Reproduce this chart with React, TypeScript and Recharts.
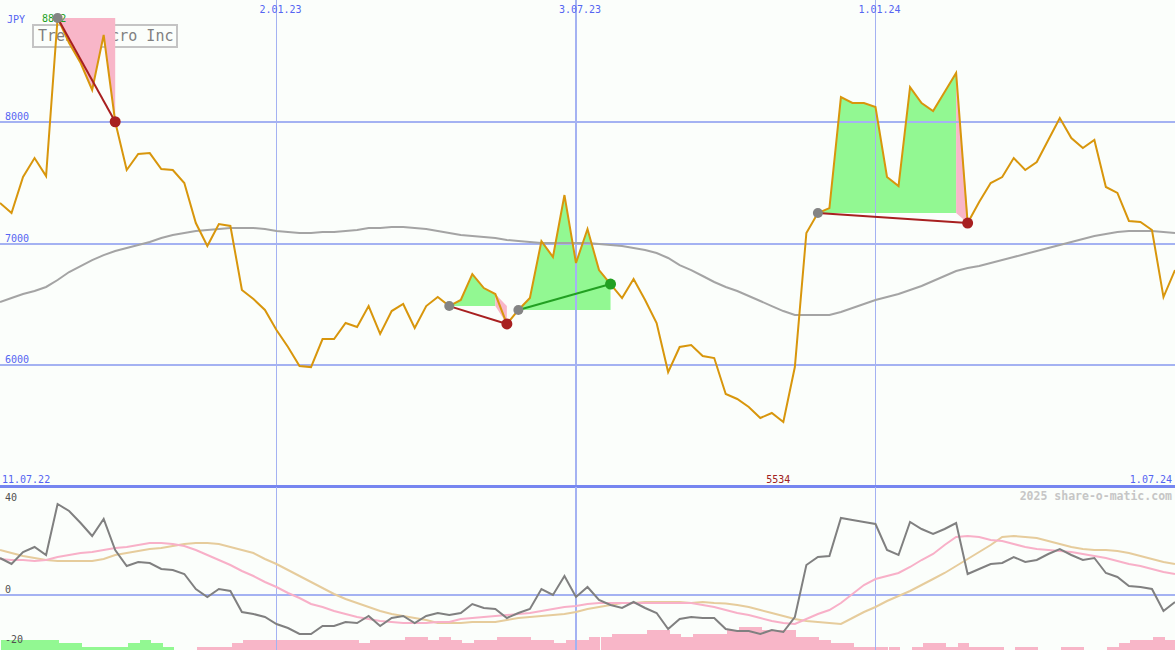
import React from 'react';
import { ComposedChart, Line, Area, Bar, XAxis, YAxis, ReferenceLine } from 'recharts';

// weekly closes, JPY (week 0 .. week 102)
const price = [
  7333, 7250, 7546, 7702, 7554, 8852, 8647, 8482, 8261, 8713,
  8000, 7604, 7735, 7743, 7612, 7604, 7497, 7168, 6979, 7160,
  7144, 6618, 6544, 6454, 6289, 6150, 5994, 5985, 6215, 6215,
  6347, 6314, 6486, 6257, 6445, 6503, 6306, 6486, 6560, 6486,
  6536, 6749, 6634, 6585, 6339, 6454, 6552, 7020, 6889, 7398,
  6840, 7119, 6782, 6667, 6552, 6708, 6536, 6347, 5944, 6150,
  6166, 6076, 6059, 5764, 5723, 5657, 5567, 5608, 5534, 5985,
  7086, 7250, 7291, 8203, 8154, 8154, 8121, 7546, 7472, 8285,
  8154, 8088, 8244, 8400, 7168, 7341, 7497, 7546, 7702, 7604,
  7669, 7850, 8031, 7866, 7784, 7850, 7464, 7415, 7185, 7177,
  7111, 6560, 6782,
];

// long moving average (grey)
const movingAvg = [
  6519, 6552, 6585, 6610, 6643, 6700, 6766, 6815, 6864, 6905,
  6938, 6963, 6988, 7012, 7045, 7070, 7086, 7103, 7111, 7119,
  7127, 7127, 7127, 7119, 7103, 7094, 7086, 7086, 7094, 7094,
  7103, 7111, 7127, 7127, 7135, 7135, 7127, 7119, 7103, 7086,
  7070, 7061, 7053, 7045, 7029, 7020, 7012, 7004, 7004, 7004,
  7004, 7004, 6996, 6988, 6979, 6963, 6947, 6922, 6881, 6823,
  6782, 6733, 6684, 6643, 6610, 6569, 6528, 6486, 6445, 6413,
  6413, 6413, 6413, 6437, 6470, 6503, 6536, 6560, 6585, 6618,
  6651, 6692, 6733, 6774, 6799, 6815, 6840, 6864, 6889, 6914,
  6938, 6963, 6988, 7012, 7037, 7061, 7078, 7094, 7103, 7103,
  7103, 7094, 7086,
];

// lower panel indicator
const momentum = [
  14.8, 12.4, 17.2, 19.2, 16, 36.4, 33.6, 28.8, 23.6, 30.4,
  18, 11.6, 13.2, 12.8, 10.4, 10, 8.4, 2.4, -0.8, 2.4,
  1.6, -6.8, -7.6, -8.8, -11.6, -13.2, -15.6, -15.6, -12.4, -12.4,
  -10.8, -11.2, -8.4, -12.4, -9.2, -8.4, -11.2, -8.4, -7.2, -8,
  -7.2, -3.6, -5.2, -5.6, -9.2, -7.2, -5.6, 2.4, 0, 7.6,
  -0.8, 3.2, -2, -4, -5.2, -2.8, -5.2, -7.2, -13.6, -9.6,
  -8.8, -9.2, -9.2, -13.6, -14.4, -14.4, -15.6, -14, -14.8, -8.8,
  12, 15.2, 15.6, 30.8, 30, 29.2, 28.4, 18, 16, 29.2,
  26.4, 24.4, 26.4, 28.8, 8.4, 10.4, 12.4, 12.8, 15.2, 13.2,
  14, 16.4, 18.4, 16, 14, 14.8, 8.8, 7.2, 3.6, 3.2,
  2.4, -6.4, -2.8,
];

const fastSignal = [
  14.4, 14, 14, 13.6, 14, 15.2, 16, 16.8, 17.2, 18,
  18.8, 19.2, 20, 20.8, 20.8, 20.4, 19.6, 18, 16, 14,
  12, 9.6, 7.6, 5.2, 3.2, 0.8, -1.2, -3.6, -4.8, -6.4,
  -7.6, -8.8, -9.6, -10.4, -10.8, -11.2, -11.2, -11.2, -10.8, -10.8,
  -9.6, -9.2, -8.8, -8.4, -8, -7.6, -7.2, -6.4, -5.6, -4.8,
  -4.4, -3.6, -3.2, -3.2, -3.2, -3.2, -3.2, -3.2, -3.2, -3.2,
  -3.2, -4, -4.8, -6, -7.2, -8, -9.2, -10.4, -11.2, -11.6,
  -9.6, -7.6, -6, -3.2, 0.4, 4, 6.4, 7.6, 8.8, 11.2,
  14, 16.4, 20, 23.2, 23.6, 23.2, 22, 21.6, 20.4, 19.2,
  18.4, 18, 17.6, 17.2, 16.4, 15.6, 14.8, 13.6, 12.4, 11.6,
  10.4, 9.2, 8.4,
];

const slowSignal = [
  18, 16.8, 15.6, 14.8, 14, 13.6, 13.6, 13.6, 13.6, 14.4,
  16, 16.8, 17.6, 18.4, 18.8, 19.6, 20.4, 20.8, 20.8, 20.4,
  19.2, 18, 16.8, 14.4, 12.4, 10, 7.6, 5.2, 2.8, 0.4,
  -1.6, -3.2, -4.8, -6.4, -7.6, -8.4, -9.2, -10, -11.2, -11.2,
  -11.2, -10.8, -10.8, -10.8, -10, -9.2, -8.8, -8.4, -8, -7.6,
  -6.8, -5.6, -4.8, -4, -3.2, -3.2, -2.8, -2.8, -2.8, -2.8,
  -3.2, -2.8, -3.2, -3.4, -4, -4.8, -6, -7.2, -8.4, -9.6,
  -10.4, -10.8, -11.2, -11.6, -9.2, -6.8, -4.8, -2.4, -0.4, 1.6,
  4, 6.4, 8.8, 11.6, 14.4, 17.2, 20, 23.2, 23.6, 23.2,
  22.8, 21.6, 20.4, 19.2, 18.4, 18, 18, 17.6, 16.8, 15.6,
  14.4, 13.2, 12.4,
];

// histogram levels (negative = green, positive = pink)
const histogram = [
  -3, -3, -3, -3, -3, -2, -2, -1, -1, -1,
  -1, -2, -3, -2, -1, 0, 0, 1, 1, 1,
  2, 3, 3, 3, 3, 3, 3, 3, 3, 3,
  3, 2, 3, 3, 3, 4, 4, 3, 4, 3,
  2, 3, 3, 4, 4, 4, 3, 3, 2, 3,
  3, 4, 4, 5, 5, 5, 6, 6, 5, 4,
  5, 5, 5, 6, 7, 7, 6, 6, 6, 4,
  4, 3, 2, 2, 1, 1, 1, 1, 0, 1,
  2, 2, 1, 2, 1, 1, 1, 0, 1, 1,
  0, 0, 1, 1, 0, 0, 1, 2, 3, 3,
  4, 3, 0,
];

const weeks = price.map((_, i) => i);
const dateTicks = [24, 50, 76];
const dateLabels = ['2.01.23', '3.07.23', '1.01.24'];
const firstDate = '11.07.22';
const lastDate = '1.07.24';
const priceTicks = [6000, 7000, 8000];
const indicatorTicks = [40, 0, -20];
const trendFrom = [5, 39, 45, 71];
const trendTo = [10, 44, 53, 84];

const LAST = weeks.length - 1;
const minIdx = price.indexOf(Math.min(...price));
const maxIdx = price.indexOf(Math.max(...price));

const FONT = 'DejaVu Sans Mono';
const BLUE_TXT = '#5565f2';
const GRID = '#a4b2f2';
const ORANGE = '#d8960c';
const GREEN_FILL = '#92f892';
const PINK_FILL = '#f8b6c8';
const DARK_RED = '#a82020';
const DARK_GREEN = '#22a022';

const topData = weeks.map((i) => {
  const row: any = { i, price: price[i], ma: movingAvg[i], green: null, pink: null, peak: i === maxIdx ? price[i] : null };
  trendFrom.forEach((s, k) => {
    const e = trendTo[k];
    const base = price[s];
    row['t' + k] = i === s || i === e ? price[i] : null;
    if (i >= s && i <= e) {
      const up = (j: number) => price[j] >= base;
      const band = [Math.min(base, price[i]), Math.max(base, price[i])];
      const inGreen = (i > s && up(i)) || (i < e && up(i + 1));
      const inPink = (i > s && !up(i)) || (i < e && !up(i + 1));
      if (inGreen) row.green = band;
      if (inPink) row.pink = band;
    }
  });
  return row;
});

const bottomData = weeks.map((i) => ({
  i,
  mom: momentum[i],
  fast: fastSignal[i],
  slow: slowSignal[i],
  hist: Math.abs(histogram[i]),
  histSign: histogram[i],
}));

const DateTick = (props: any) => {
  const { x, payload } = props;
  const k = dateTicks.indexOf(payload.value);
  return (
    <text x={x + 4} y={13} textAnchor="middle" fill={BLUE_TXT} fontSize={10} fontFamily={FONT}>
      {dateLabels[k]}
    </text>
  );
};

const EdgeTick = (props: any) => {
  const { x, payload } = props;
  const v = payload.value;
  if (v === 0)
    return (
      <text x={2} y={483} textAnchor="start" fill={BLUE_TXT} fontSize={10} fontFamily={FONT}>
        {firstDate}
      </text>
    );
  if (v === LAST)
    return (
      <text x={1172} y={483} textAnchor="end" fill={BLUE_TXT} fontSize={10} fontFamily={FONT}>
        {lastDate}
      </text>
    );
  return (
    <text x={x - 5} y={483} textAnchor="middle" fill="#a02020" fontSize={10} fontFamily={FONT}>
      {price[v]}
    </text>
  );
};

const PriceTick = (props: any) => {
  const { y, payload } = props;
  return (
    <text x={5} y={y - 2} fill={BLUE_TXT} fontSize={10} fontFamily={FONT}>
      {payload.value}
    </text>
  );
};

const IndTick = (props: any) => {
  const { y, payload } = props;
  return (
    <text x={5} y={Math.min(159, Math.max(14, y - 2))} fill="#505050" fontSize={10} fontFamily={FONT}>
      {payload.value}
    </text>
  );
};

const PeakLabel = (props: any) => {
  const { cx, cy, index, value } = props;
  if (index !== maxIdx || value == null) return <g key={'pk' + index} />;
  return (
    <text key={'pk' + index} x={cx - 15.5} y={cy + 4} fill="#22a022" fontSize={10} fontFamily={FONT}>
      {price[maxIdx]}
    </text>
  );
};

const makeDot = (k: number) => (props: any) => {
  const { cx, cy, index } = props;
  const s = trendFrom[k];
  const e = trendTo[k];
  if (index === s) return <circle key={`d${k}s`} cx={cx} cy={cy} r={5} fill="#848484" />;
  if (index === e)
    return <circle key={`d${k}e`} cx={cx} cy={cy} r={5.5} fill={price[e] >= price[s] ? DARK_GREEN : DARK_RED} />;
  return <g key={`d${k}n${index}`} />;
};

const HistBar = (props: any) => {
  const { x, y, width, height, payload } = props;
  if (!height || height <= 0) return <g />;
  return (
    <rect
      x={x + width / 2 + 1.5}
      y={y}
      width={width}
      height={height}
      fill={payload.histSign < 0 ? GREEN_FILL : PINK_FILL}
      shapeRendering="crispEdges"
    />
  );
};

export default function App() {
  return (
    <div style={{ position: 'absolute', left: 0, top: 0, width: 1175, height: 650, background: '#fbfefb', overflow: 'hidden' }}>
      <div
        style={{
          position: 'absolute',
          left: 32,
          top: 24,
          width: 138,
          height: 20,
          border: '2px solid #c4c4c4',
          color: '#808080',
          fontFamily: FONT,
          fontSize: 15,
          lineHeight: '20px',
          paddingLeft: 4,
          boxSizing: 'content-box',
          whiteSpace: 'nowrap',
          overflow: 'hidden',
        }}
      >
        Trend Micro Inc
      </div>
      <div style={{ position: 'absolute', left: 7, top: 14, color: BLUE_TXT, fontFamily: FONT, fontSize: 10 }}>JPY</div>

      <div style={{ position: 'absolute', left: 0, top: 0 }}>
        <ComposedChart width={1175} height={487} data={topData} margin={{ top: 0, right: 0, bottom: 0, left: 0 }}>
          <XAxis
            dataKey="i"
            type="number"
            domain={[0, LAST]}
            orientation="top"
            ticks={dateTicks}
            interval={0}
            tick={<DateTick />}
            axisLine={false}
            tickLine={false}
            mirror
            height={20}
          />
          <XAxis
            xAxisId="edge"
            dataKey="i"
            type="number"
            domain={[0, LAST]}
            orientation="bottom"
            ticks={[0, minIdx, LAST]}
            interval={0}
            tick={<EdgeTick />}
            axisLine={false}
            tickLine={false}
            mirror
            height={20}
          />
          <YAxis
            type="number"
            domain={[5000, 9000]}
            ticks={priceTicks}
            interval={0}
            tick={<PriceTick />}
            axisLine={false}
            tickLine={false}
            mirror
            width={40}
            allowDataOverflow
          />
          {priceTicks.map((t) => (
            <ReferenceLine key={'h' + t} y={t} stroke={GRID} strokeWidth={2} shapeRendering="crispEdges" />
          ))}
          {dateTicks.map((t, k) => (
            <ReferenceLine key={'v' + t} x={t} stroke={GRID} strokeWidth={k === 1 ? 2 : 1} shapeRendering="crispEdges" />
          ))}
          <Line dataKey="peak" stroke="none" dot={PeakLabel} activeDot={false} isAnimationActive={false} />
          <Area dataKey="green" type="linear" stroke="none" fill={GREEN_FILL} fillOpacity={1} activeDot={false} isAnimationActive={false} />
          <Area dataKey="pink" type="linear" stroke="none" fill={PINK_FILL} fillOpacity={1} activeDot={false} isAnimationActive={false} />
          <Line dataKey="ma" type="linear" stroke="#a4a4a4" strokeWidth={2} dot={false} activeDot={false} isAnimationActive={false} />
          <Line dataKey="price" type="linear" stroke={ORANGE} strokeWidth={2} dot={false} activeDot={false} isAnimationActive={false} />
          {trendFrom.map((s, k) => (
            <Line
              key={'t' + k}
              dataKey={'t' + k}
              type="linear"
              connectNulls
              stroke={price[trendTo[k]] >= price[s] ? DARK_GREEN : DARK_RED}
              strokeWidth={2}
              dot={makeDot(k)}
              activeDot={false}
              isAnimationActive={false}
            />
          ))}
        </ComposedChart>
      </div>

      <div style={{ position: 'absolute', left: 0, top: 485, width: 1175, height: 3, background: '#7686f0' }} />

      <div style={{ position: 'absolute', left: 0, top: 487 }}>
        <ComposedChart width={1175} height={163} data={bottomData} margin={{ top: 0, right: 0, bottom: 0, left: 0 }}>
          <XAxis dataKey="i" type="number" domain={[0, LAST]} hide />
          <YAxis
            type="number"
            domain={[-22, 43.2]}
            ticks={indicatorTicks}
            interval={0}
            tick={<IndTick />}
            axisLine={false}
            tickLine={false}
            mirror
            width={40}
            allowDataOverflow
          />
          <YAxis yAxisId="h" type="number" domain={[0, 50]} hide allowDataOverflow />
          {dateTicks.map((t, k) => (
            <ReferenceLine key={'bv' + t} x={t} stroke={GRID} strokeWidth={k === 1 ? 2 : 1} shapeRendering="crispEdges" />
          ))}
          <Bar yAxisId="h" dataKey="hist" barSize={11.5} shape={HistBar} activeBar={false} isAnimationActive={false} />
          <ReferenceLine y={0} stroke={GRID} strokeWidth={2} shapeRendering="crispEdges" />
          <Line dataKey="slow" type="linear" stroke="#e6cc9c" strokeWidth={2} dot={false} activeDot={false} isAnimationActive={false} />
          <Line dataKey="fast" type="linear" stroke="#f8b0c8" strokeWidth={2} dot={false} activeDot={false} isAnimationActive={false} />
          <Line dataKey="mom" type="linear" stroke="#808080" strokeWidth={2} dot={false} activeDot={false} isAnimationActive={false} />
        </ComposedChart>
      </div>

      <div
        style={{
          position: 'absolute',
          right: 3,
          top: 489,
          color: '#c6c6c6',
          fontFamily: FONT,
          fontSize: 11.5,
          fontWeight: 'bold',
          whiteSpace: 'nowrap',
        }}
      >
        2025 share-o-matic.com
      </div>
    </div>
  );
}
